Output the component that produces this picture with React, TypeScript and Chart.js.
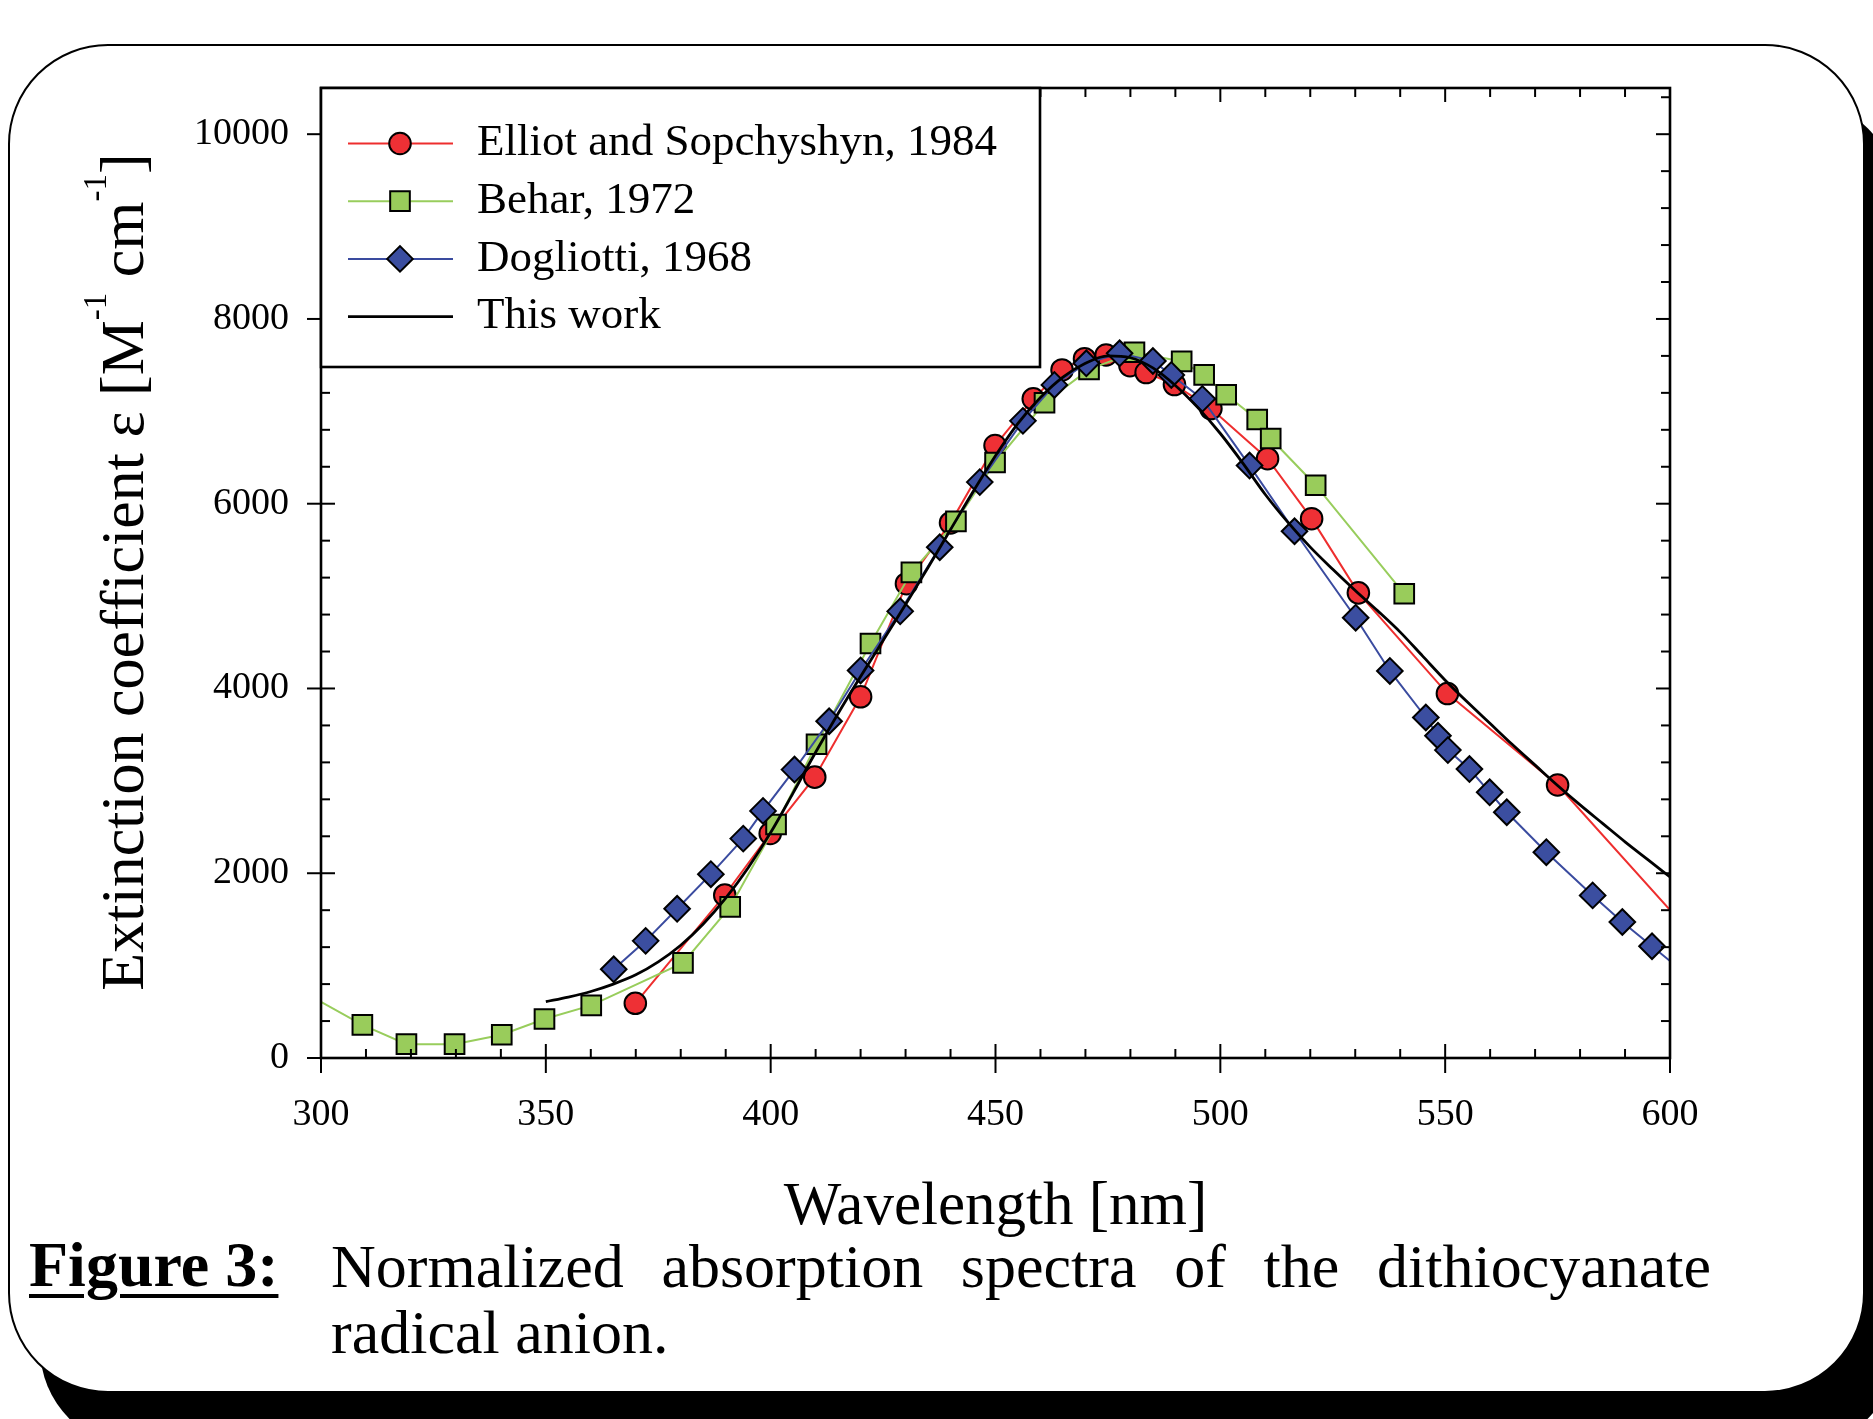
import React, { useEffect, useRef } from 'react';
import { Chart, registerables } from 'chart.js';

Chart.register(...registerables);

const SERIF = "'Liberation Serif', 'Times New Roman', Times, serif";

// Elliot and Sopchyshyn, 1984
const elliotWavelength = [369.9, 389.8, 399.9, 409.8, 420.0, 430.2, 440.0, 449.9, 458.4, 464.8, 469.8, 474.6, 479.9, 483.5, 489.8, 497.9, 510.5, 520.3, 530.7, 550.5, 575.0, 610.0];
const elliotEpsilon = [592, 1763, 2430, 3040, 3910, 5134, 5793, 6630, 7135, 7448, 7570, 7610, 7495, 7420, 7290, 7030, 6488, 5838, 5035, 3945, 2955, 1060];

// Behar, 1972
const beharWavelength = [290.0, 309.2, 319.0, 329.7, 340.2, 349.7, 360.1, 380.5, 391.0, 401.2, 410.2, 422.2, 431.3, 441.2, 449.9, 460.9, 470.8, 480.9, 491.4, 496.4, 501.3, 508.2, 511.2, 521.2, 540.9];
const beharEpsilon = [880, 358, 150, 150, 252, 422, 570, 1030, 1636, 2528, 3396, 4487, 5257, 5808, 6446, 7093, 7454, 7640, 7540, 7394, 7180, 6912, 6706, 6200, 5025];

// Dogliotti, 1968
const dogliottiWavelength = [365.1, 372.2, 379.2, 386.7, 393.9, 398.3, 405.3, 413.0, 420.0, 428.8, 437.6, 446.5, 456.1, 463.1, 470.2, 477.6, 485.0, 489.1, 496.0, 506.5, 516.5, 530.1, 537.7, 545.7, 548.4, 550.6, 555.4, 559.9, 563.7, 572.5, 582.8, 589.4, 596.0, 605.0];
const dogliottiEpsilon = [960, 1268, 1615, 1990, 2375, 2675, 3122, 3645, 4195, 4835, 5529, 6234, 6897, 7286, 7520, 7628, 7545, 7394, 7135, 6413, 5702, 4766, 4190, 3686, 3488, 3333, 3128, 2876, 2660, 2228, 1760, 1472, 1210, 850];

// This work
const thisWorkWavelength = [350, 355, 360, 365, 370, 375, 380, 385, 390, 395, 400, 405, 410, 415, 420, 425, 430, 435, 440, 445, 450, 455, 460, 465, 470, 475, 480, 485, 490, 495, 500, 505, 510, 515, 520, 525, 530, 535, 540, 545, 550, 555, 560, 565, 570, 575, 580, 585, 590, 595, 600];
const thisWorkEpsilon = [610, 660, 720, 800, 900, 1040, 1220, 1450, 1730, 2060, 2440, 2870, 3310, 3730, 4130, 4520, 4910, 5310, 5720, 6130, 6520, 6870, 7150, 7370, 7520, 7600, 7580, 7470, 7280, 7040, 6760, 6440, 6100, 5800, 5530, 5290, 5060, 4840, 4610, 4350, 4090, 3850, 3620, 3390, 3170, 2950, 2740, 2540, 2340, 2150, 1960];

const seriesLabels = ['Elliot and Sopchyshyn, 1984', 'Behar, 1972', 'Dogliotti, 1968', 'This work'];
const xTickValues = [300, 350, 400, 450, 500, 550, 600];
const yTickValues = [0, 2000, 4000, 6000, 8000, 10000];

const pts = (xs: number[], ys: number[]) => xs.map((x, i) => ({ x, y: ys[i] }));

type LegendItem = { label: string; line: string; fill: string; style: string; radius: number; lw: number };

const legendItems: LegendItem[] = [
  { label: seriesLabels[0], line: '#EE2E2E', fill: '#EE3035', style: 'circle', radius: 10.8, lw: 2 },
  { label: seriesLabels[1], line: '#98CD5C', fill: '#99CC5B', style: 'rect', radius: 13.9, lw: 2 },
  { label: seriesLabels[2], line: '#3A4B9F', fill: '#3B4EA0', style: 'rectRot', radius: 12.8, lw: 2 },
  { label: seriesLabels[3], line: '#000000', fill: '', style: 'none', radius: 0, lw: 2.8 },
];

function drawMarker(ctx: CanvasRenderingContext2D, style: string, x: number, y: number, r: number, fill: string) {
  ctx.beginPath();
  if (style === 'circle') {
    ctx.arc(x, y, r, 0, Math.PI * 2);
  } else if (style === 'rect') {
    const s = Math.SQRT1_2 * r;
    ctx.rect(x - s, y - s, 2 * s, 2 * s);
  } else if (style === 'rectRot') {
    ctx.moveTo(x - r, y);
    ctx.lineTo(x, y - r);
    ctx.lineTo(x + r, y);
    ctx.lineTo(x, y + r);
    ctx.closePath();
  } else {
    return;
  }
  ctx.fillStyle = fill;
  ctx.fill();
  ctx.lineWidth = 2;
  ctx.strokeStyle = '#000';
  ctx.stroke();
}

const framePlugin = {
  id: 'frameTicks',
  afterDatasetsDraw(chart: any) {
    const { ctx, chartArea: a, scales } = chart;
    const xs = scales.x;
    const ys = scales.y;
    ctx.save();
    ctx.strokeStyle = '#000';
    ctx.lineWidth = 2;
    const seg = (x1: number, y1: number, x2: number, y2: number) => {
      ctx.beginPath();
      ctx.moveTo(x1, y1);
      ctx.lineTo(x2, y2);
      ctx.stroke();
    };
    for (let v = 300; v <= 600; v += 10) {
      const px = xs.getPixelForValue(v);
      const major = v % 50 === 0;
      const inner = major ? 14 : 9;
      seg(px, a.bottom + (major ? 15 : 0), px, a.bottom - inner);
      seg(px, a.top, px, a.top + inner);
    }
    for (let v = 0; v <= 10400; v += 400) {
      const py = ys.getPixelForValue(v);
      const major = v % 2000 === 0;
      const inner = major ? 14 : 9;
      seg(a.left - (major ? 14 : 0), py, a.left + inner, py);
      seg(a.right, py, a.right - inner, py);
    }
    ctx.lineWidth = 2.6;
    ctx.strokeRect(a.left, a.top, a.right - a.left, a.bottom - a.top);

    // legend box
    const lx = a.left;
    const ly = a.top;
    const lw = 719;
    const lh = 279;
    ctx.fillStyle = '#fff';
    ctx.fillRect(lx, ly, lw, lh);
    ctx.lineWidth = 2.6;
    ctx.strokeRect(lx, ly, lw, lh);
    ctx.font = `45px ${SERIF}`;
    ctx.textBaseline = 'middle';
    ctx.textAlign = 'left';
    legendItems.forEach((it, i) => {
      const cy = ly + 55.5 + i * 57.7;
      ctx.strokeStyle = it.line;
      ctx.lineWidth = it.lw;
      seg(lx + 27, cy, lx + 132, cy);
      drawMarker(ctx, it.style, lx + 79, cy, it.radius, it.fill);
      ctx.fillStyle = '#000';
      ctx.fillText(it.label, lx + 156, cy);
    });
    ctx.restore();
  },
  afterDraw(chart: any) {
    const { ctx, chartArea: a } = chart;
    ctx.save();
    ctx.fillStyle = '#000';
    // x title
    ctx.font = `61px ${SERIF}`;
    ctx.textAlign = 'center';
    ctx.textBaseline = 'alphabetic';
    ctx.fillText('Wavelength [nm]', (a.left + a.right) / 2, 1224);
    // y title with superscripts
    const parts = [
      { t: 'Extinction coefficient \u03b5 [M', sup: false },
      { t: '-1', sup: true },
      { t: ' cm', sup: false },
      { t: '-1', sup: true },
      { t: ']', sup: false },
    ];
    const mainFont = `62px ${SERIF}`;
    const supFont = `33px ${SERIF}`;
    let total = 0;
    const widths = parts.map((p) => {
      ctx.font = p.sup ? supFont : mainFont;
      const w = ctx.measureText(p.t).width;
      total += w;
      return w;
    });
    ctx.translate(143, 572);
    ctx.rotate(-Math.PI / 2);
    ctx.textAlign = 'left';
    let cx = -total / 2;
    parts.forEach((p, i) => {
      ctx.font = p.sup ? supFont : mainFont;
      ctx.fillText(p.t, cx, p.sup ? -37 : 0);
      cx += widths[i];
    });
    ctx.restore();
  },
};

export default function App() {
  const ref = useRef<HTMLCanvasElement>(null);
  useEffect(() => {
    const canvas = ref.current;
    if (!canvas) return;
    const chart = new Chart(canvas, {
      type: 'line',
      data: {
        datasets: [
          {
            label: seriesLabels[0],
            data: pts(elliotWavelength, elliotEpsilon),
            borderColor: '#EE2E2E',
            borderWidth: 2,
            backgroundColor: '#EE3035',
            pointStyle: 'circle',
            pointRadius: 10.8,
            pointBackgroundColor: '#EE3035',
            pointBorderColor: '#000',
            pointBorderWidth: 2,
            tension: 0,
            order: 3,
          },
          {
            label: seriesLabels[1],
            data: pts(beharWavelength, beharEpsilon),
            borderColor: '#98CD5C',
            borderWidth: 2,
            backgroundColor: '#99CC5B',
            pointStyle: 'rect',
            pointRadius: 13.9,
            pointBackgroundColor: '#99CC5B',
            pointBorderColor: '#000',
            pointBorderWidth: 2,
            tension: 0,
            order: 2,
          },
          {
            label: seriesLabels[2],
            data: pts(dogliottiWavelength, dogliottiEpsilon),
            borderColor: '#3A4B9F',
            borderWidth: 2,
            backgroundColor: '#3B4EA0',
            pointStyle: 'rectRot',
            pointRadius: 12.8,
            pointBackgroundColor: '#3B4EA0',
            pointBorderColor: '#000',
            pointBorderWidth: 2,
            tension: 0,
            order: 1,
          },
          {
            label: seriesLabels[3],
            data: pts(thisWorkWavelength, thisWorkEpsilon),
            borderColor: '#000',
            borderWidth: 2.8,
            pointRadius: 0,
            cubicInterpolationMode: 'monotone',
            order: 0,
          },
        ],
      },
      options: {
        responsive: false,
        animation: false,
        devicePixelRatio: 1,
        events: [],
        layout: { padding: { left: 0, top: 88, right: 203, bottom: 261 } },
        plugins: { legend: { display: false }, tooltip: { enabled: false }, title: { display: false } },
        scales: {
          x: {
            type: 'linear',
            position: 'bottom',
            min: 300,
            max: 600,
            grid: { display: false, drawTicks: false },
            border: { display: false },
            afterBuildTicks: (s: any) => {
              s.ticks = xTickValues.map((value) => ({ value }));
            },
            ticks: {
              font: { family: SERIF, size: 38 },
              color: '#000',
              padding: 34,
              maxRotation: 0,
              autoSkip: false,
              callback: (v: any) => String(v),
            },
            afterFit: (s: any) => {
              s.height = 100;
            },
          },
          y: {
            type: 'linear',
            min: 0,
            max: 10500,
            grid: { display: false, drawTicks: false },
            border: { display: false },
            afterBuildTicks: (s: any) => {
              s.ticks = yTickValues.map((value) => ({ value }));
            },
            ticks: {
              font: { family: SERIF, size: 38 },
              color: '#000',
              padding: 32,
              autoSkip: false,
              callback: (v: any) => String(v),
            },
            afterFit: (s: any) => {
              s.width = 321;
            },
          },
        },
      },
      plugins: [framePlugin],
    } as any);
    return () => chart.destroy();
  }, []);

  const capFont: React.CSSProperties = {
    position: 'absolute',
    fontFamily: SERIF,
    fontSize: 62,
    lineHeight: '64.4px',
    color: '#000',
    margin: 0,
  };

  return (
    <div style={{ position: 'absolute', left: 0, top: 0, width: 1873, height: 1419, overflow: 'hidden', background: '#fff' }}>
      <div style={{ position: 'absolute', left: 40, top: 99, width: 1857, height: 1349, borderRadius: 100, background: '#000' }} />
      <div style={{ position: 'absolute', left: 8, top: 44, width: 1857, height: 1349, boxSizing: 'border-box', border: '2px solid #000', borderRadius: 100, background: '#fff' }} />
      <canvas ref={ref} width={1873} height={1419} style={{ position: 'absolute', left: 0, top: 0, width: 1873, height: 1419 }} />
      <div style={{ ...capFont, left: 29, top: 1233, fontSize: 64, fontWeight: 'bold', textDecoration: 'underline', textDecorationThickness: '4px', textUnderlineOffset: '8px', whiteSpace: 'nowrap' }}>Figure 3:</div>
      <div style={{ ...capFont, left: 331, top: 1234, width: 1380, textAlign: 'justify', textAlignLast: 'justify' }}>Normalized absorption spectra of the dithiocyanate</div>
      <div style={{ ...capFont, left: 331, top: 1300, whiteSpace: 'nowrap' }}>radical anion.</div>
    </div>
  );
}
